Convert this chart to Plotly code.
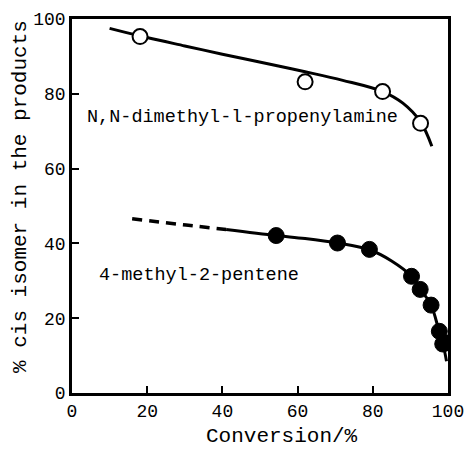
import plotly.graph_objects as go

# Open circles: N,N-dimethyl-1-propenylamine
amine_x = [18.1, 62.0, 82.6, 92.7]
amine_y = [95.3, 83.2, 80.6, 72.1]
amine_curve_x = [10, 18, 30, 40, 52.7, 62, 72, 82.6, 88, 92.7, 95.7]
amine_curve_y = [97.5, 95.5, 92.8, 90.6, 87.9, 85.9, 83.6, 80.6, 77.5, 72.5, 66.0]

# Filled circles: 4-methyl-2-pentene
pentene_x = [54.3, 70.6, 79.1, 90.3, 92.6, 95.5, 97.7, 98.6, 99.6]
pentene_y = [42.1, 40.1, 38.4, 31.2, 27.7, 23.5, 16.5, 13.1, 13.4]
pentene_dash_x = [16, 25, 33, 41]
pentene_dash_y = [46.6, 45.5, 44.6, 43.7]
pentene_curve_x = [41, 54.3, 62, 70.6, 79.1, 85, 90.3, 92.6, 95.5, 97.5, 98.8, 99.6]
pentene_curve_y = [43.7, 42.1, 41.3, 40.1, 38.3, 35.3, 31.2, 27.8, 23.5, 17.0, 12.5, 8.5]

ticks = [0, 20, 40, 60, 80, 100]
tick_labels = ["0", "20", "40", "60", "80", "100"]

FONT = "Liberation Mono"

fig = go.Figure()
fig.add_trace(go.Scatter(x=amine_curve_x, y=amine_curve_y, mode="lines",
                         line=dict(color="black", width=3, shape="spline"),
                         hoverinfo="skip"))
fig.add_trace(go.Scatter(x=amine_x, y=amine_y, mode="markers",
                         marker=dict(symbol="circle", size=15, color="white",
                                     line=dict(color="black", width=2))))
fig.add_trace(go.Scatter(x=pentene_dash_x, y=pentene_dash_y, mode="lines",
                         line=dict(color="black", width=3.5, dash="10px,7px", shape="spline"),
                         hoverinfo="skip"))
fig.add_trace(go.Scatter(x=pentene_curve_x, y=pentene_curve_y, mode="lines",
                         line=dict(color="black", width=3, shape="spline"),
                         hoverinfo="skip"))
fig.add_trace(go.Scatter(x=pentene_x, y=pentene_y, mode="markers",
                         marker=dict(symbol="circle", size=16, color="black",
                                     line=dict(color="black", width=1))))

axis_common = dict(range=[0, 100], tickvals=ticks, ticktext=tick_labels,
                   showgrid=False, zeroline=False, showline=True, linecolor="black",
                   linewidth=2.5, mirror=True, ticks="inside", ticklen=7, tickwidth=2,
                   tickcolor="black", ticklabeloverflow="allow", automargin=False,
                   tickfont=dict(family=FONT, size=18, color="black"))

W, H = 465, 452
L, R, T, B = 72, 17, 19, 59

fig.update_layout(
    width=W, height=H,
    margin=dict(l=L, r=R, t=T, b=B),
    paper_bgcolor="white", plot_bgcolor="white",
    showlegend=False,
    xaxis=dict(**axis_common),
    yaxis=dict(**axis_common),
)

# annotations given in page pixels, converted to paper coordinates
pw, ph = W - L - R, H - T - B
def px2paper(px, py):
    return (px - L) / pw, 1 - (py - T) / ph

labels = [
    ("N,N-dimethyl-l-propenylamine", 85, 118, "left", 18.5, 0),
    ("4-methyl-2-pentene", 97, 275, "left", 18.5, 0),
    ("Conversion/%", 282, 436, "center", 21, 0),
    ("% cis isomer in the products", 20, 197, "center", 21, -90),
]
for text, px, py, xa, size, ang in labels:
    ax, ay = px2paper(px, py)
    fig.add_annotation(text=text, x=ax, y=ay, xref="paper", yref="paper",
                       showarrow=False, xanchor=xa, yanchor="middle", textangle=ang,
                       font=dict(family=FONT, size=size, color="black"))

fig.write_html(
    "out.html",
    config={"displayModeBar": False},
    post_script=("document.body.style.margin='0';"
                 "document.body.style.overflow='hidden';"
                 "document.documentElement.style.overflow='hidden';"),
)
